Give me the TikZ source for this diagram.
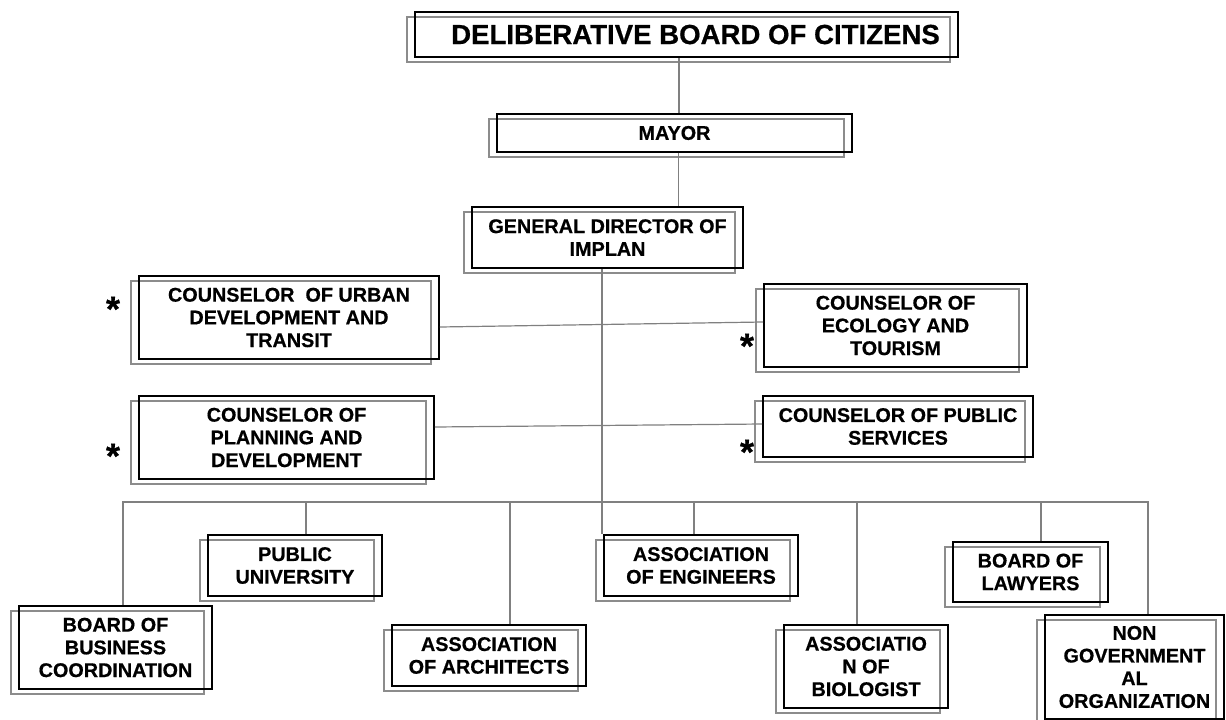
\documentclass[tikz,border=0pt]{standalone}
\usepackage{fontspec}
\setmainfont{Liberation Sans}[BoldFeatures={FakeBold=0.6}]
\usetikzlibrary{calc}
\tikzset{
  orgbox/.style={draw=black, line width=1.8pt, align=center, inner sep=0pt,
    font=\bfseries\fontsize{19.8}{22.7}\selectfont},
  shadebox/.style={draw=black!45, line width=1.5pt},
  conn/.style={draw=black!50, line width=1.2pt},
  starmark/.style={font=\bfseries\fontsize{36}{36}\selectfont, inner sep=0pt}
}
\newcommand{\orgnode}[6]{%
  \draw[shadebox] (#2-8,#3+5) rectangle (#4-8,#5+5);
  \node[orgbox, minimum width=#4-#2, minimum height=#5-#3] (#1) at ({(#2+#4)/2},{(#3+#5)/2}) {#6};
}
\begin{document}
\begin{tikzpicture}[x=1pt,y=-1pt]
\useasboundingbox (0,0) rectangle (1226,720);

\orgnode{title}{415}{12}{958}{57}{\fontsize{27.6}{31}\selectfont\hspace*{18pt}DELIBERATIVE BOARD OF CITIZENS}
\orgnode{mayor}{497}{114}{852}{152}{MAYOR}
\orgnode{gd}{472}{207}{743}{268}{GENERAL DIRECTOR OF\\IMPLAN}
\orgnode{urban}{139}{276}{439}{359}{COUNSELOR\ \ OF URBAN\\DEVELOPMENT AND\\TRANSIT}
\orgnode{eco}{764}{284}{1027}{367}{COUNSELOR OF\\ECOLOGY AND\\TOURISM}
\orgnode{plan}{139}{396}{434}{479}{COUNSELOR OF\\PLANNING AND\\DEVELOPMENT}
\orgnode{pub}{763}{396}{1033}{457}{COUNSELOR OF PUBLIC\\SERVICES}
\orgnode{biz}{19}{606}{212}{689}{BOARD OF\\BUSINESS\\COORDINATION}
\orgnode{univ}{208}{535}{382}{596}{PUBLIC\\UNIVERSITY}
\orgnode{arch}{392}{625}{586}{686}{ASSOCIATION\\OF ARCHITECTS}
\orgnode{eng}{604}{535}{798}{596}{ASSOCIATION\\OF ENGINEERS}
\orgnode{law}{953}{542}{1108}{602}{BOARD OF\\LAWYERS}
\orgnode{bio}{784}{625}{948}{708}{ASSOCIATIO\\N OF\\BIOLOGIST}
\orgnode{ngo}{1045}{615}{1224}{719}{NON\\GOVERNMENT\\AL\\ORGANIZATION}

\node[starmark] (s1) at (113,309) {*};
\node[starmark] (s2) at (113,456) {*};
\node[starmark] (s3) at (747,346) {*};
\node[starmark] (s4) at (747,452) {*};

\coordinate (busline) at (0,502);
\draw[conn] ([xshift=-7.5pt]title.south) -- ([xshift=-7.5pt]title.south |- mayor.north);
\draw[conn] ([xshift=4pt]mayor.south) -- ([xshift=4pt]mayor.south |- gd.north);
\draw[conn] ([xshift=-5.5pt]gd.south) -- ([xshift=-5.5pt]gd.south |- eng.north);
\draw[conn] ($(urban.east)+(0,9.5)$) -- ($(eco.west)+(0,-3.5)$);
\draw[conn] ($(plan.east)+(0,-10.5)$) -- ($(pub.west)+(0,-2.5)$);
\draw[conn] ([xshift=7.5pt]biz.north) -- ([xshift=7.5pt]biz.north |- busline)
  -- ([xshift=13.5pt]ngo.north |- busline) -- ([xshift=13.5pt]ngo.north);
\draw[conn] ([xshift=11pt]univ.north) -- ([xshift=11pt]univ.north |- busline);
\draw[conn] ([xshift=21pt]arch.north) -- ([xshift=21pt]arch.north |- busline);
\draw[conn] ([xshift=-7pt]eng.north) -- ([xshift=-7pt]eng.north |- busline);
\draw[conn] ([xshift=-9pt]bio.north) -- ([xshift=-9pt]bio.north |- busline);
\draw[conn] ([xshift=10.5pt]law.north) -- ([xshift=10.5pt]law.north |- busline);
\end{tikzpicture}
\end{document}
